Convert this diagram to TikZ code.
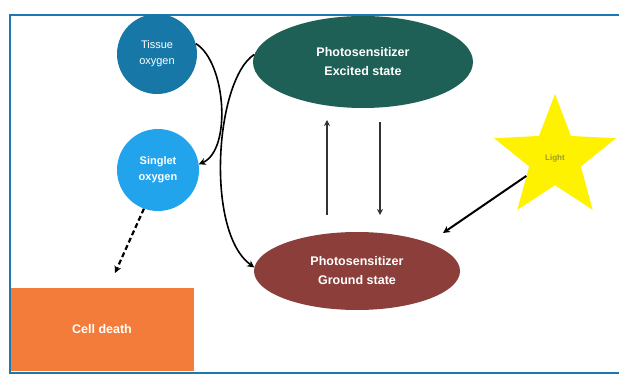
\documentclass[tikz,border=0pt]{standalone}
\usepackage{fontspec}
\setmainfont{Liberation Sans}
\usetikzlibrary{shapes.geometric,arrows.meta}
\definecolor{frameblue}{HTML}{1B78B3}
\definecolor{tissueblue}{HTML}{1778A8}
\definecolor{singletblue}{HTML}{22A4EC}
\definecolor{excgreen}{HTML}{1E5F56}
\definecolor{groundred}{HTML}{8C3F3A}
\definecolor{orangebox}{HTML}{F47C3A}
\definecolor{staryellow}{HTML}{FFF200}
\definecolor{startext}{HTML}{9A9A30}
\begin{document}
\begin{tikzpicture}[x=1pt,y=-1pt,
  txt/.style={text=white,font=\fontsize{11}{16}\selectfont,align=center},
  bold/.style={font=\fontsize{11}{16}\selectfont\bfseries},
  bigbold/.style={font=\fontsize{12.5}{19}\selectfont\bfseries},
  blob/.style={circle,inner sep=0pt,minimum size=80pt},
  oval/.style={ellipse,inner sep=0pt},
  conn/.style={draw=black,line width=1.6pt,-{Stealth[length=7pt,width=7pt]}},
  vconn/.style={draw=black!80,line width=1.4pt,-{Stealth[length=6pt,width=6pt]}}]
\useasboundingbox (0,0) rectangle (619,377);
\fill[white] (0,0) rectangle (619,377);
% frame
\draw[frameblue,line width=2.5pt] (620,15) -- (10,15) -- (10,373) -- (620,373);
% nodes
\node[blob,fill=tissueblue,txt] (tis) at (157,54) {Tissue\\oxygen};
\node[blob,fill=singletblue,txt,bold,minimum size=82pt] (sin) at (158,170) {Singlet\\oxygen};
\node[oval,fill=excgreen,minimum width=220pt,minimum height=92pt,txt,bigbold] (exc) at (363,62) {Photosensitizer\\Excited state};
\node[oval,fill=groundred,minimum width=206pt,minimum height=78pt,txt,bigbold] (gr) at (357,271) {Photosensitizer\\Ground state};
\node[star,star points=5,star point ratio=2.35,fill=staryellow,minimum size=128pt,inner sep=0pt,font=\fontsize{8}{10}\selectfont\bfseries,text=startext] (lig) at (555,158) {Light};
\node[rectangle,fill=orangebox,minimum width=183pt,minimum height=83pt,txt,bigbold] (cd) at (102,329) {Cell death};
% connectors
\draw[conn] (tis.15) .. controls (226,62) and (232,150) .. (sin.8);
\draw[conn] (exc.176) .. controls (215,80) and (205,232) .. (gr.178);
\coordinate (upS) at (327,215);
\coordinate (upE) at (327,120);
\coordinate (dnS) at (380,122);
\coordinate (dnE) at (380,215);
\draw[vconn] (upS) -- (upE);
\draw[vconn] (dnS) -- (dnE);
\coordinate (laserEnd) at (443,233);
\draw[conn,line width=2pt] (lig.-148) -- (laserEnd);
\coordinate (cdTop) at (115,273);
\draw[conn,dashed,dash pattern=on 5pt off 3pt,line width=2.2pt] (sin.-110) -- (cdTop);
\end{tikzpicture}
\end{document}
